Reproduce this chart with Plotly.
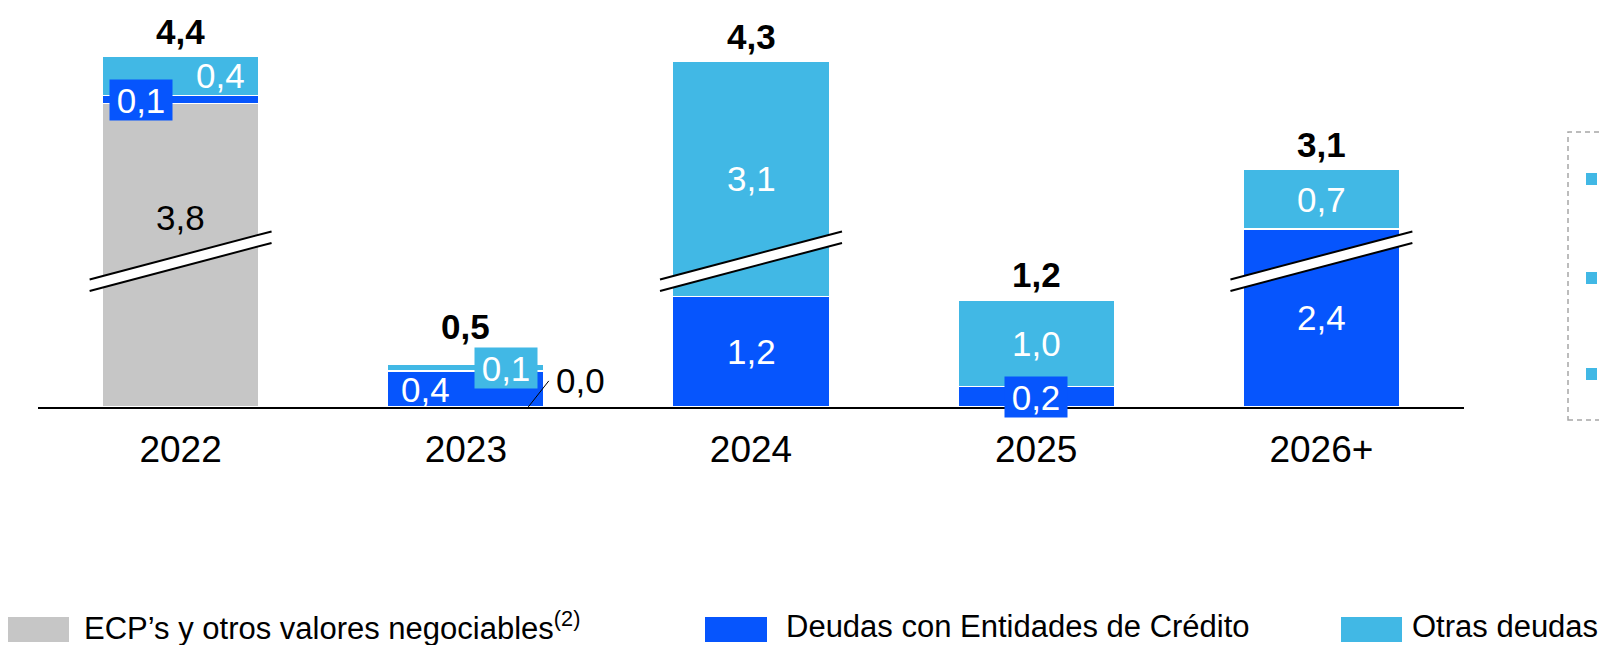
import plotly.graph_objects as go

# values in EUR bn
years = ["2022", "2023", "2024", "2025", "2026+"]
ecp_otros_valores = [3.83, 0.0, None, None, None]
deudas_entidades = [0.09, 0.40, 1.23, 0.23, 2.44]
otras_deudas = [0.44, 0.07, 3.07, 0.96, 0.66]

series_names = [
    "ECP’s y otros valores negociables<sup>(2)</sup>",
    "Deudas con Entidades de Crédito",
    "Otras deudas",
]
series_colors = ["#C6C6C6", "#0655FD", "#41B8E5"]
label_colors = ["black", "white", "white"]

# broken axis: everything above BREAK_AT is pulled down by BREAK_GAP
BREAK_AT = 1.62
BREAK_GAP = 0.46

# the page body has an 8px margin, so the figure starts at (8, 8)
PAGE_OFFSET = 8
WIDTH, HEIGHT = 1607 - PAGE_OFFSET, 645 - PAGE_OFFSET
M_L, M_R, M_T, M_B = 30, 143, 0, 238
PLOT_W = WIDTH - M_L - M_R
PLOT_H = HEIGHT - M_T - M_B
PX_PER_UNIT = 90
FONT = "Liberation Sans, Arial, sans-serif"


def shown(v):
    if v <= BREAK_AT:
        return v
    return max(BREAK_AT, v - BREAK_GAP)


def fmt(v):
    return "{:.1f}".format(v).replace(".", ",")


def paper_x(px):
    return (px - PAGE_OFFSET - M_L) / PLOT_W


def paper_y(py):
    return (HEIGHT - M_B - (py - PAGE_OFFSET)) / PLOT_H


fig = go.Figure()

x_pos = list(range(len(years)))
stacks = [ecp_otros_valores, deudas_entidades, otras_deudas]
bottom = [0.0] * len(years)
segments = []

for s, vals in enumerate(stacks):
    heights = []
    for i, v in enumerate(vals):
        if v is None:
            heights.append(None)
            continue
        base = bottom[i]
        top = base + v
        heights.append(shown(top) - shown(base) if v > 0 else None)
        segments.append((s, i, base, top))
        bottom[i] = top
    fig.add_trace(go.Bar(
        x=x_pos,
        y=heights,
        width=0.55,
        name=series_names[s],
        marker=dict(color=series_colors[s], line=dict(color="white", width=1.5)),
        hoverinfo="skip",
        showlegend=False
    ))

# label tweaks (small segments get boxed labels pushed aside)
label_tweaks = {
    (0, 0): dict(yshift=38),
    (1, 0): dict(xshift=-40, bgcolor=series_colors[1], width=62, height=40),
    (2, 0): dict(xshift=40),
    (1, 1): dict(xshift=-40),
    (2, 1): dict(xshift=40, bgcolor=series_colors[2], width=62, height=40),
    (1, 3): dict(bgcolor=series_colors[1], width=62, height=40),
}

annotations = []
shapes = []

for s, i, base, top in segments:
    value = top - base
    if value == 0:
        # zero segment: label off to the side with a leader line
        shapes.append(dict(
            type="line", xref="x", yref="y",
            x0=i + 0.219, y0=0, x1=i + 0.291, y1=0.29,
            line=dict(color="black", width=1)
        ))
        annotations.append(dict(
            x=i + 0.402, y=0, xref="x", yref="y",
            text=fmt(value), showarrow=False, yshift=27,
            font=dict(size=35, color="black")
        ))
        continue
    ann = dict(
        x=i, y=(shown(base) + shown(top)) / 2, xref="x", yref="y",
        text=fmt(value), showarrow=False, yanchor="middle",
        font=dict(size=35, color=label_colors[s]), borderpad=0
    )
    ann.update(label_tweaks.get((s, i), {}))
    annotations.append(ann)

# totals above each stack
total_shift = {1: 38}
for i, total in enumerate(bottom):
    annotations.append(dict(
        x=i, y=shown(total), xref="x", yref="y",
        text="<b>{}</b>".format(fmt(total)), showarrow=False,
        yanchor="middle", yshift=total_shift.get(i, 25),
        font=dict(size=35, color="black")
    ))

# break marks on the segments that cross the break
half_w = 0.319
half_gap = 0.064
rise = 0.267
for s, i, base, top in segments:
    if base < BREAK_AT and top > BREAK_AT + BREAK_GAP:
        x0, x1 = i - half_w, i + half_w
        up0, up1 = BREAK_AT + half_gap - rise, BREAK_AT + half_gap + rise
        lo0, lo1 = up0 - 2 * half_gap, up1 - 2 * half_gap
        shapes.append(dict(
            type="path", xref="x", yref="y",
            path="M {} {} L {} {} L {} {} L {} {} Z".format(x0, up0, x1, up1, x1, lo1, x0, lo0),
            fillcolor="white", line=dict(width=0)
        ))
        for y0, y1 in [(up0, up1), (lo0, lo1)]:
            shapes.append(dict(
                type="line", xref="x", yref="y",
                x0=x0, y0=y0, x1=x1, y1=y1,
                line=dict(color="black", width=2)
            ))

# cropped side panel on the right
shapes.append(dict(
    type="rect", xref="paper", yref="paper",
    x0=paper_x(1568), x1=paper_x(1660), y0=paper_y(420), y1=paper_y(132),
    line=dict(color="#A6A6A6", width=1.5, dash="5px,4px"), fillcolor="rgba(0,0,0,0)"
))
for top_px in [173, 272, 368]:
    shapes.append(dict(
        type="rect", xref="paper", yref="paper",
        x0=paper_x(1586), x1=paper_x(1597), y0=paper_y(top_px + 12), y1=paper_y(top_px),
        line=dict(width=0), fillcolor=series_colors[2]
    ))

# legend drawn by hand to get the wide swatches
legend_spots = [(8, 69, 82), (705, 767, 784), (1341, 1402, 1410)]
for s, (sx0, sx1, tx) in enumerate(legend_spots):
    shapes.append(dict(
        type="rect", xref="paper", yref="paper",
        x0=paper_x(sx0), x1=paper_x(sx1), y0=paper_y(642), y1=paper_y(617),
        line=dict(width=0), fillcolor=series_colors[s]
    ))
    annotations.append(dict(
        x=paper_x(tx), y=paper_y(626), xref="paper", yref="paper",
        text=series_names[s], showarrow=False, xanchor="left", yanchor="middle",
        font=dict(size=31, color="black")
    ))

fig.update_layout(
    width=WIDTH,
    height=HEIGHT,
    margin=dict(l=M_L, r=M_R, t=M_T, b=M_B),
    barmode="stack",
    plot_bgcolor="white",
    paper_bgcolor="white",
    font=dict(family=FONT, color="black"),
    showlegend=False,
    xaxis=dict(
        range=[-0.5, len(years) - 0.5],
        tickvals=x_pos,
        ticktext=years,
        tickfont=dict(size=37, color="black"),
        ticklabelstandoff=9,
        showline=True,
        linecolor="black",
        linewidth=2,
        showgrid=False,
        zeroline=False,
        ticks="",
        automargin=False
    ),
    yaxis=dict(
        range=[0, PLOT_H / PX_PER_UNIT],
        visible=False,
        fixedrange=True
    ),
    shapes=shapes,
    annotations=annotations
)

fig.write_html("out.html")
